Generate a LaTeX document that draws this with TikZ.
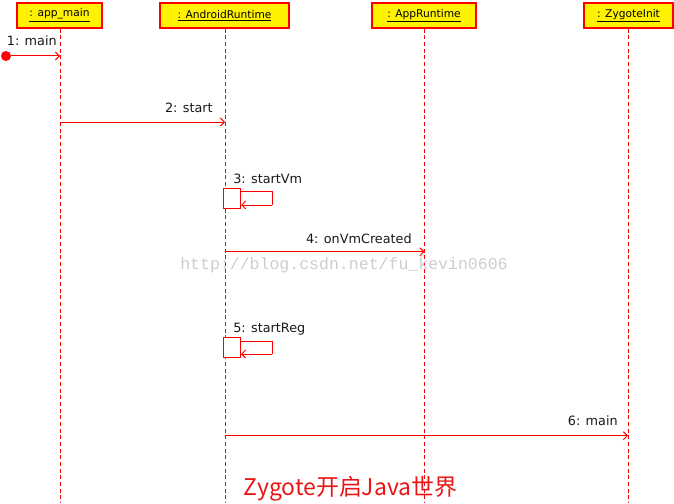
\documentclass[tikz,border=0pt]{standalone}
\usepackage{fontspec}
\setmainfont{DejaVu Sans}
\newfontfamily\cjkfont{Noto Sans CJK SC}
\newfontfamily\wmfont{Liberation Mono}
\usetikzlibrary{arrows.meta}
\definecolor{wmgray}{RGB}{205,205,205}
\definecolor{titlered}{RGB}{235,20,20}
\begin{document}
\begin{tikzpicture}[x=0.75pt,y=-0.75pt,
  hdr/.style={draw=red,fill=yellow,line width=0.9pt,minimum height=18.75pt,inner sep=0pt,
    font=\fontsize{8}{9}\selectfont,text=black},
  life/.style={draw=red,line width=0.75pt,dash pattern=on 3pt off 2pt},
  msg/.style={draw=red,line width=0.75pt,-{Straight Barb[length=3pt,width=6pt]}},
  lbl/.style={font=\fontsize{9.6}{11}\selectfont,text=black!90,inner sep=0pt},
  act/.style={draw=red,fill=white,line width=0.75pt,minimum width=12.75pt,minimum height=15pt,inner sep=0pt},
  loopln/.style={draw=red,line width=0.75pt},
]
\useasboundingbox (0,0) rectangle (674,503);
% headers
\node[hdr,minimum width=63.75pt] (h1) at (59.5,15.5) {\underline{: app\_main}};
\node[hdr,minimum width=96.75pt] (h2) at (224.5,15.5) {\underline{: AndroidRuntime}};
\node[hdr,minimum width=78pt] (h3) at (424,15.5) {\underline{: AppRuntime}};
\node[hdr,minimum width=66.75pt] (h4) at (628.5,15.5) {\underline{: ZygoteInit}};
% lifeline ends
\coordinate (e1) at (60,503);
\coordinate (e2) at (225,503);
\coordinate (e3) at (424.5,503);
\coordinate (e4) at (628,503);
\draw[life] (h1.south -| e1) -- (e1);
\draw[life] (h2.south -| e2) -- (e2);
\draw[life] (h3.south -| e3) -- (e3);
\draw[life] (h4.south -| e4) -- (e4);
% watermark
\node[font=\wmfont\fontsize{12.4}{14}\selectfont,text=wmgray,anchor=base west,inner sep=0pt] (wm) at (180,269) {http://blog.csdn.net/fu\_kevin0606};
% message 1
\node[circle,fill=red,minimum size=7.5pt,inner sep=0pt] (start) at (6,56) {};
\coordinate (m1) at (60,56);
\draw[msg] (start) -- (m1);
\node[lbl,anchor=base east] (l1) at (57,46) {1: main};
% message 2
\coordinate (m2a) at (60,122);
\coordinate (m2b) at (225,122);
\draw[msg] (m2a) -- (m2b);
\node[lbl,anchor=base east] (l2) at (213,112) {2: start};
% message 3
\node[act] (a3) at (232,198.3) {};
\coordinate (c3a) at (272.3,191.7);
\coordinate (c3b) at (272.3,205);
\draw[loopln] (a3.east |- c3a) -- (c3a) -- (c3b);
\draw[msg] (c3b) -- (a3.east |- c3b);
\node[lbl,anchor=base west] (l3) at (233,183) {3: startVm};
% message 4
\coordinate (m4a) at (225,251.7);
\coordinate (m4b) at (424.5,251.7);
\draw[msg] (m4a) -- (m4b);
\node[lbl,anchor=base east] (l4) at (412,243) {4: onVmCreated};
% message 5
\node[act] (a5) at (232,347.8) {};
\coordinate (c5a) at (272.3,341.7);
\coordinate (c5b) at (272.3,354);
\draw[loopln] (a5.east |- c5a) -- (c5a) -- (c5b);
\draw[msg] (c5b) -- (a5.east |- c5b);
\node[lbl,anchor=base west] (l5) at (233,332) {5: startReg};
% message 6
\coordinate (m6a) at (225,435.7);
\coordinate (m6b) at (628,435.7);
\draw[msg] (m6a) -- (m6b);
\node[lbl,anchor=base east] (l6) at (618,425) {6: main};
% title
\node[font=\cjkfont\fontsize{17.2}{20}\selectfont,text=titlered,anchor=base,inner sep=0pt] (title) at (350.5,495) {Zygote开启Java世界};
\end{tikzpicture}
\end{document}
